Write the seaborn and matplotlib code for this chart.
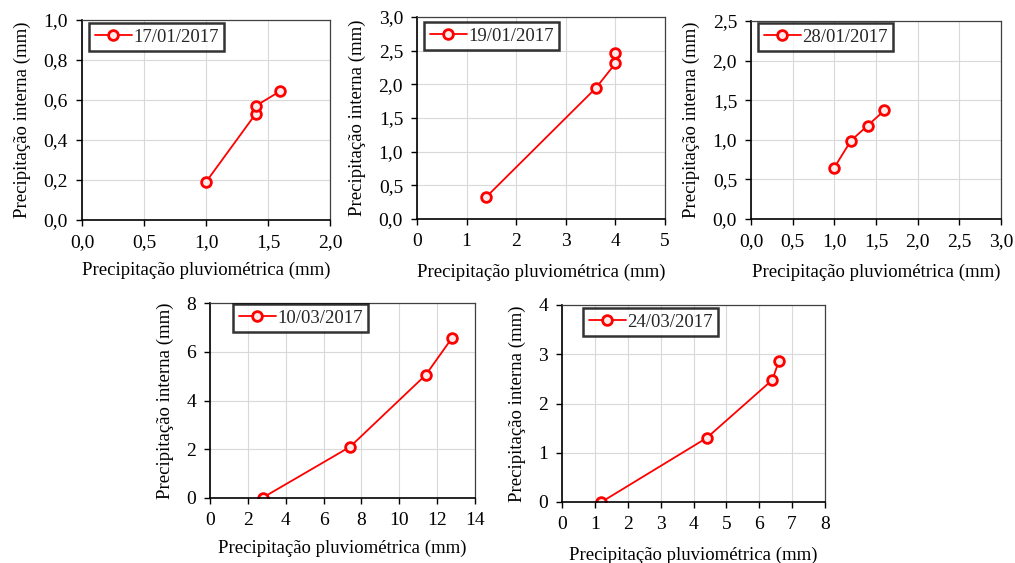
import matplotlib
matplotlib.use("Agg")
import matplotlib.pyplot as plt
import seaborn as sns
import pandas as pd

# Rainfall events: gross rainfall (x) vs. throughfall (y), both in mm
dates = ["17/01/2017", "19/01/2017", "28/01/2017", "10/03/2017", "24/03/2017"]

x_1701 = [1.0, 1.4, 1.4, 1.6]
y_1701 = [0.19, 0.53, 0.57, 0.645]

x_1901 = [1.4, 3.6, 4.0, 4.0]
y_1901 = [0.33, 1.94, 2.31, 2.47]

x_2801 = [1.0, 1.2, 1.4, 1.6]
y_2801 = [0.65, 0.99, 1.18, 1.37]

x_1003 = [2.8, 7.4, 11.4, 12.8]
y_1003 = [0.02, 2.1, 5.05, 6.58]

x_2403 = [1.2, 4.4, 6.4, 6.6]
y_2403 = [0.0, 1.3, 2.48, 2.87]

xs = [x_1701, x_1901, x_2801, x_1003, x_2403]
ys = [y_1701, y_1901, y_2801, y_1003, y_2403]

x_ticks = [
    [0.0, 0.5, 1.0, 1.5, 2.0],
    [0, 1, 2, 3, 4, 5],
    [0.0, 0.5, 1.0, 1.5, 2.0, 2.5, 3.0],
    [0, 2, 4, 6, 8, 10, 12, 14],
    [0, 1, 2, 3, 4, 5, 6, 7, 8],
]
y_ticks = [
    [0.0, 0.2, 0.4, 0.6, 0.8, 1.0],
    [0.0, 0.5, 1.0, 1.5, 2.0, 2.5, 3.0],
    [0.0, 0.5, 1.0, 1.5, 2.0, 2.5],
    [0, 2, 4, 6, 8],
    [0, 1, 2, 3, 4],
]
x_dec = [1, 0, 1, 0, 0]
y_dec = [1, 1, 1, 0, 0]

xlabel = "Precipitação pluviométrica (mm)"
ylabel = "Precipitação interna (mm)"

sns.set_theme(style="white")
plt.rcParams["font.family"] = ["Liberation Serif", "DejaVu Serif"]

W, H = 1015, 563
fig = plt.figure(figsize=(W / 100, H / 100), dpi=100)

# axes boxes in pixels: left, right, top, bottom
boxes = [
    (82, 330, 20, 220),
    (417, 665, 17, 219),
    (751, 1001, 21, 219),
    (210, 475, 303, 498),
    (562, 825, 305, 502),
]
legend_offsets = [(7, 3), (7, 5), (7, 2), (23, 1), (21, 3)]
xlabel_pads = [8, 10, 10, 8, 10]


def fmt(v, d):
    return (f"{v:.{d}f}").replace(".", ",")


for i in range(5):
    l, r, t, b = boxes[i]
    ax = fig.add_axes([l / W, 1 - b / H, (r - l) / W, (b - t) / H])
    df = pd.DataFrame({"x": xs[i], "y": ys[i]})
    sns.lineplot(
        data=df, x="x", y="y", sort=False, estimator=None, ax=ax,
        color="#ff0000", linewidth=1.3, marker="o", markersize=7,
        markerfacecolor="#ffeaea", markeredgecolor="#ff0000",
        markeredgewidth=2.0, label=dates[i],
    )
    ax.set_xlim(x_ticks[i][0], x_ticks[i][-1])
    ax.set_ylim(y_ticks[i][0], y_ticks[i][-1])
    ax.set_xticks(x_ticks[i])
    ax.set_yticks(y_ticks[i])
    ax.set_xticklabels([fmt(v, x_dec[i]) for v in x_ticks[i]], fontsize=14)
    ax.set_yticklabels([fmt(v, y_dec[i]) for v in y_ticks[i]], fontsize=14)
    ax.grid(True, color="#d9d9d9", linewidth=0.8)
    ax.set_axisbelow(True)
    for s in ["left", "bottom"]:
        ax.spines[s].set_color("black")
        ax.spines[s].set_linewidth(1.2)
    for s in ["top", "right"]:
        ax.spines[s].set_color("#404040")
        ax.spines[s].set_linewidth(0.9)
    ax.tick_params(axis="both", direction="out", length=4, width=1,
                   color="black", pad=6, labelcolor="black", left=True, bottom=True)
    ax.set_xlabel(xlabel, fontsize=13.5, labelpad=xlabel_pads[i], color="black")
    ax.set_ylabel(ylabel, fontsize=13.5, labelpad=9, color="black")
    ox, oy = legend_offsets[i]
    leg = ax.legend(
        loc="upper left",
        bbox_to_anchor=(ox / (r - l), 1 - oy / (b - t)),
        fontsize=13.5, frameon=True, fancybox=False, handlelength=2.0,
        handletextpad=0.05, borderpad=0.3, borderaxespad=0,
    )
    leg.get_frame().set_edgecolor("black")
    leg.get_frame().set_linewidth(1.8)

fig.savefig("out.png", dpi=100)
